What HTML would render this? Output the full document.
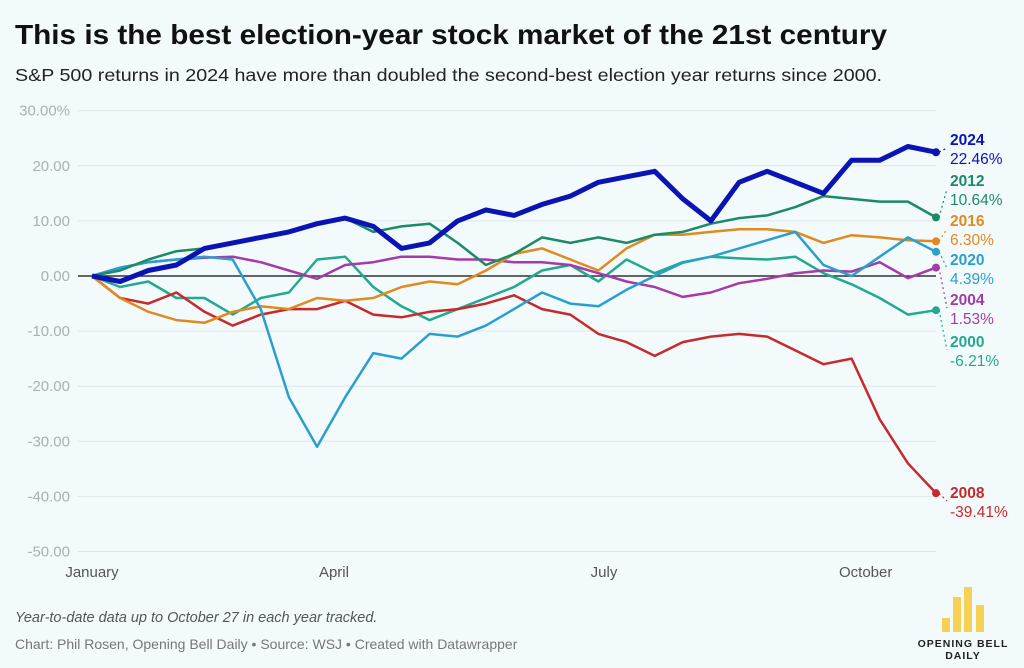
<!DOCTYPE html>
<html><head><meta charset="utf-8"><style>
html,body{margin:0;padding:0;background:#f3fafc;}
svg{display:block;font-family:"Liberation Sans",sans-serif;}
</style></head><body>
<svg id="chart" width="1024" height="668" viewBox="0 0 1024 668">
<rect width="1024" height="668" fill="#f3fafc"/>
<text x="15" y="44" font-size="28" font-weight="bold" fill="#111" textLength="872" lengthAdjust="spacingAndGlyphs">This is the best election-year stock market of the 21st century</text>
<text x="15" y="81" font-size="17.5" fill="#222" textLength="867" lengthAdjust="spacingAndGlyphs">S&amp;P 500 returns in 2024 have more than doubled the second-best election year returns since 2000.</text>
<g id="grid"></g>
<g id="series"></g>
<g id="labels"></g>
<text x="15" y="622" font-size="14.5" font-style="italic" fill="#555">Year-to-date data up to October 27 in each year tracked.</text>
<text x="15" y="649" font-size="14" fill="#777">Chart: Phil Rosen, Opening Bell Daily • Source: WSJ • Created with Datawrapper</text>
<g>
<rect x="942" y="618" width="8" height="14" fill="#f7d154"/>
<rect x="953" y="597" width="8" height="35" fill="#f7d154"/>
<rect x="964" y="587" width="8" height="45" fill="#f7d154"/>
<rect x="976" y="605" width="8" height="27" fill="#f7d154"/>
<text x="963" y="647" font-size="10.5" font-weight="bold" fill="#222" text-anchor="middle" letter-spacing="1">OPENING BELL</text>
<text x="963" y="659" font-size="10.5" font-weight="bold" fill="#222" text-anchor="middle" letter-spacing="1">DAILY</text>
</g>
</svg>
<script>
const days = [0,10,20,30,40,50,60,70,80,90,100,110,120,130,140,150,160,170,180,190,200,210,220,230,240,250,260,270,280,290,300];
const yTicks = [30,20,10,0,-10,-20,-30,-40,-50];
const yTickLabels = ["30.00%","20.00","10.00","0.00","-10.00","-20.00","-30.00","-40.00","-50.00"];
const monthNames = ["January","April","July","October"];
const monthDays = [0,86,182,275];
const years = ["2000","2004","2008","2016","2020","2012","2024"];
const s2000 = [0,-2,-1,-4,-4,-7,-4,-3,3,3.5,-2,-5.5,-8,-6,-4,-2,1,2,-1,3,0.5,2.5,3.5,3.2,3,3.5,0.5,-1.5,-4,-7,-6.21];
const s2004 = [0,1.5,2.5,3,3.3,3.5,2.5,1,-0.5,2,2.5,3.5,3.5,3,3,2.5,2.5,2,0.5,-1,-2,-3.8,-3,-1.3,-0.5,0.5,1,0.8,2.5,-0.4,1.53];
const s2008 = [0,-4,-5,-3,-6.5,-9,-7,-6,-6,-4.5,-7,-7.5,-6.5,-6,-5,-3.5,-6,-7,-10.5,-12,-14.5,-12,-11,-10.5,-11,-13.5,-16,-15,-26,-34,-39.41];
const s2012 = [0,1,3,4.5,5,6,7,8,9.5,10.5,8,9,9.5,6,2,4,7,6,7,6,7.5,8,9.5,10.5,11,12.5,14.5,14,13.5,13.5,10.64];
const s2016 = [0,-4,-6.5,-8,-8.5,-6.5,-5.5,-6,-4,-4.5,-4,-2,-1,-1.5,1,4,5,3,1,5,7.5,7.5,8,8.5,8.5,8,6,7.4,7,6.5,6.3];
const s2020 = [0,1.5,2.5,3,3.5,3,-6,-22,-31,-22,-14,-15,-10.5,-11,-9,-6,-3,-5,-5.5,-2.5,0,2.4,3.5,5,6.5,8,2,0,3.5,7,4.39];
const s2024 = [0,-1,1,2,5,6,7,8,9.5,10.5,9,5,6,10,12,11,13,14.5,17,18,19,14,10,17,19,17,15,21,21,23.5,22.46];
const finalLabels = ["-6.21%","1.53%","-39.41%","6.30%","4.39%","10.64%","22.46%"];
const colors = {"2000":"#23a98f","2004":"#a53aa8","2008":"#c62a2a","2012":"#1d8a66","2016":"#e08a1f","2020":"#2b9fcc","2024":"#0a14b4"};
const seriesMap = {"2000":s2000,"2004":s2004,"2008":s2008,"2012":s2012,"2016":s2016,"2020":s2020,"2024":s2024};
const labelY = {"2024":140,"2012":181,"2016":221,"2020":260,"2004":300,"2000":342,"2008":493};

const NS="http://www.w3.org/2000/svg";
const X0=92, X1=936, Y0=276, PX=5.51;
function xs(d){return X0+(d-0)/(300-0)*(X1-X0);}
function ys(v){return Y0 - v*PX;}
function mk(tag,attrs,parent){const e=document.createElementNS(NS,tag);for(const k in attrs)e.setAttribute(k,attrs[k]);parent.appendChild(e);return e;}
const grid=document.getElementById('grid');
yTicks.forEach((t,i)=>{
  const l=mk('line',{x1:78,x2:936,y1:ys(t),y2:ys(t),stroke:t===0?'#333':'#dfe6e9','stroke-width':t===0?1.5:1},grid);
  
  
  const tx=mk('text',{x:70,y:ys(t)+5,'font-size':15,fill:'#aab0b3','text-anchor':'end'},grid);
  tx.textContent=yTickLabels[i];
  
  
});
monthNames.forEach((m,i)=>{
  const tx=mk('text',{x:xs(monthDays[i]),y:577,'font-size':15,fill:'#555','text-anchor':'middle'},grid);
  tx.textContent=m;
  
  
});
const sg=document.getElementById('series'), lg=document.getElementById('labels');
years.forEach((yr,i)=>{
  const vals=seriesMap[yr];
  const pts=vals.map((v,j)=>xs(days[j]).toFixed(1)+','+ys(v).toFixed(1)).join(' ');
  const p=mk('polyline',{points:pts,fill:'none',stroke:colors[yr],'stroke-width':yr==='2024'?5:2.5,'stroke-linejoin':'round'},sg);
  
  
  const ex=xs(days[days.length-1]), ey=ys(vals[vals.length-1]);
  const dot=mk('circle',{cx:ex,cy:ey,r:4,fill:colors[yr]},sg);
  
  
  const ly=labelY[yr];
  const c=mk('line',{x1:ex+3,y1:ey,x2:947,y2:ly+8,stroke:colors[yr],'stroke-width':1.2,'stroke-dasharray':'2,3'},lg);
  
  
  const t1=mk('text',{x:950,y:ly+5,'font-size':15.5,'font-weight':'bold',fill:colors[yr]},lg);
  t1.textContent=yr;
  
  
  const t2=mk('text',{x:950,y:ly+24,'font-size':15.5,fill:colors[yr]},lg);
  t2.textContent=finalLabels[i];
  
  
});
</script>
</body></html>
